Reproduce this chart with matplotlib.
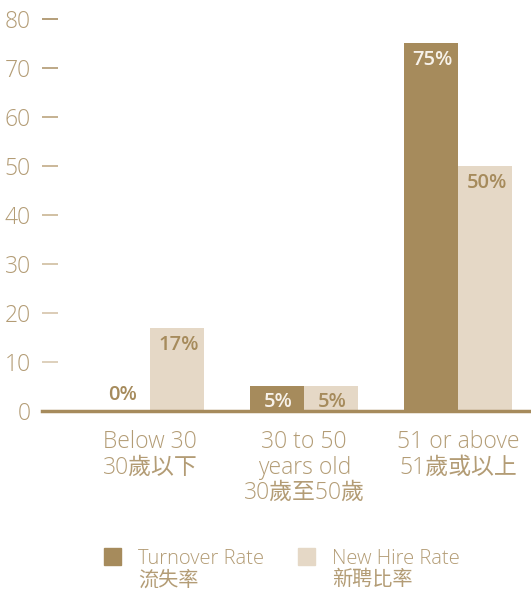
import numpy as np
import matplotlib.pyplot as plt
from matplotlib.patches import Rectangle

plt.rcParams['font.family'] = ['Open Sans', 'Noto Sans CJK TC', 'DejaVu Sans']

groups = ['Below 30\n30歲以下', '30 to 50\nyears old\n30歲至50歲', '51 or above\n51歲或以上']
turnover = [0, 5, 75]
new_hire = [17, 5, 50]
yticks = [0, 10, 20, 30, 40, 50, 60, 70, 80]
legend_labels = ['Turnover Rate\n流失率', 'New Hire Rate\n新聘比率']

DARK = '#a68b5c'
LIGHT = '#e5d8c6'
TEXT = '#b39c75'

fig = plt.figure(figsize=(5.31, 5.92), dpi=100)
ax = fig.add_axes([0.079, 0.306, 0.921, 0.662])

x = np.arange(len(groups))
w = 0.35
b1 = ax.bar(x - w / 2, turnover, w, color=DARK, zorder=2)
b2 = ax.bar(x + w / 2, new_hire, w, color=LIGHT, zorder=2)

def label(bars, vals, inside_col, out_col):
    for rect, v in zip(bars, vals):
        cx = rect.get_x() + rect.get_width() / 2
        if v == 0:
            ax.annotate(f'{v}%', (cx, v), xytext=(0, 4), textcoords='offset points',
                        ha='center', va='bottom', fontsize=14.5, fontweight='semibold', color=out_col)
        else:
            off = -4 if v < 10 else -5
            ax.annotate(f'{v}%', (cx, v), xytext=(1, off), textcoords='offset points',
                        ha='center', va='top', fontsize=14.5, fontweight='semibold', color=inside_col)

label(b1, turnover, '#f7f2ea', DARK)
label(b2, new_hire, DARK, DARK)

ax.set_xlim(-0.70, 2.47)
ax.set_ylim(0, 80)
ax.set_yticks(yticks)
ax.set_xticks(x)
ax.set_xticklabels(groups, fontsize=16.5, color=TEXT, linespacing=1.08, fontweight='light')
ax.tick_params(axis='x', length=0, pad=14)
ax.tick_params(axis='y', direction='in', length=11.5, width=1.2, pad=8,
               labelsize=16.5, labelcolor=TEXT, color='#c2ac88')
for t in ax.get_yticklabels():
    t.set_fontweight('light')

for s in ['top', 'right', 'left']:
    ax.spines[s].set_visible(False)
ax.spines['bottom'].set_color(DARK)
ax.spines['bottom'].set_linewidth(2.5)

fig.canvas.draw()
tick_cols = ['#b49c74', '#d8c8b0', '#d5c4aa', '#cfbda0', '#c9b594', '#c2ac88', '#bba47e', '#b29a72', '#a88e62']
for t, c in zip(ax.yaxis.get_major_ticks(), tick_cols):
    t.tick1line.set_color(c)
    t.tick1line.set_markeredgecolor(c)

# legend
for (lx, tx), col, lab in zip([(104, 138), (298, 332)], [DARK, LIGHT], legend_labels):
    fig.patches.append(Rectangle((lx / 531, 1 - 565 / 592), 17 / 531, 17 / 592,
                                 transform=fig.transFigure, color=col))
    fig.text(tx / 531, 1 - 549 / 592, lab, ha='left', va='top', fontsize=14.5,
             color=TEXT, linespacing=1.08, fontweight='light')

fig.savefig('out.png', dpi=100)
